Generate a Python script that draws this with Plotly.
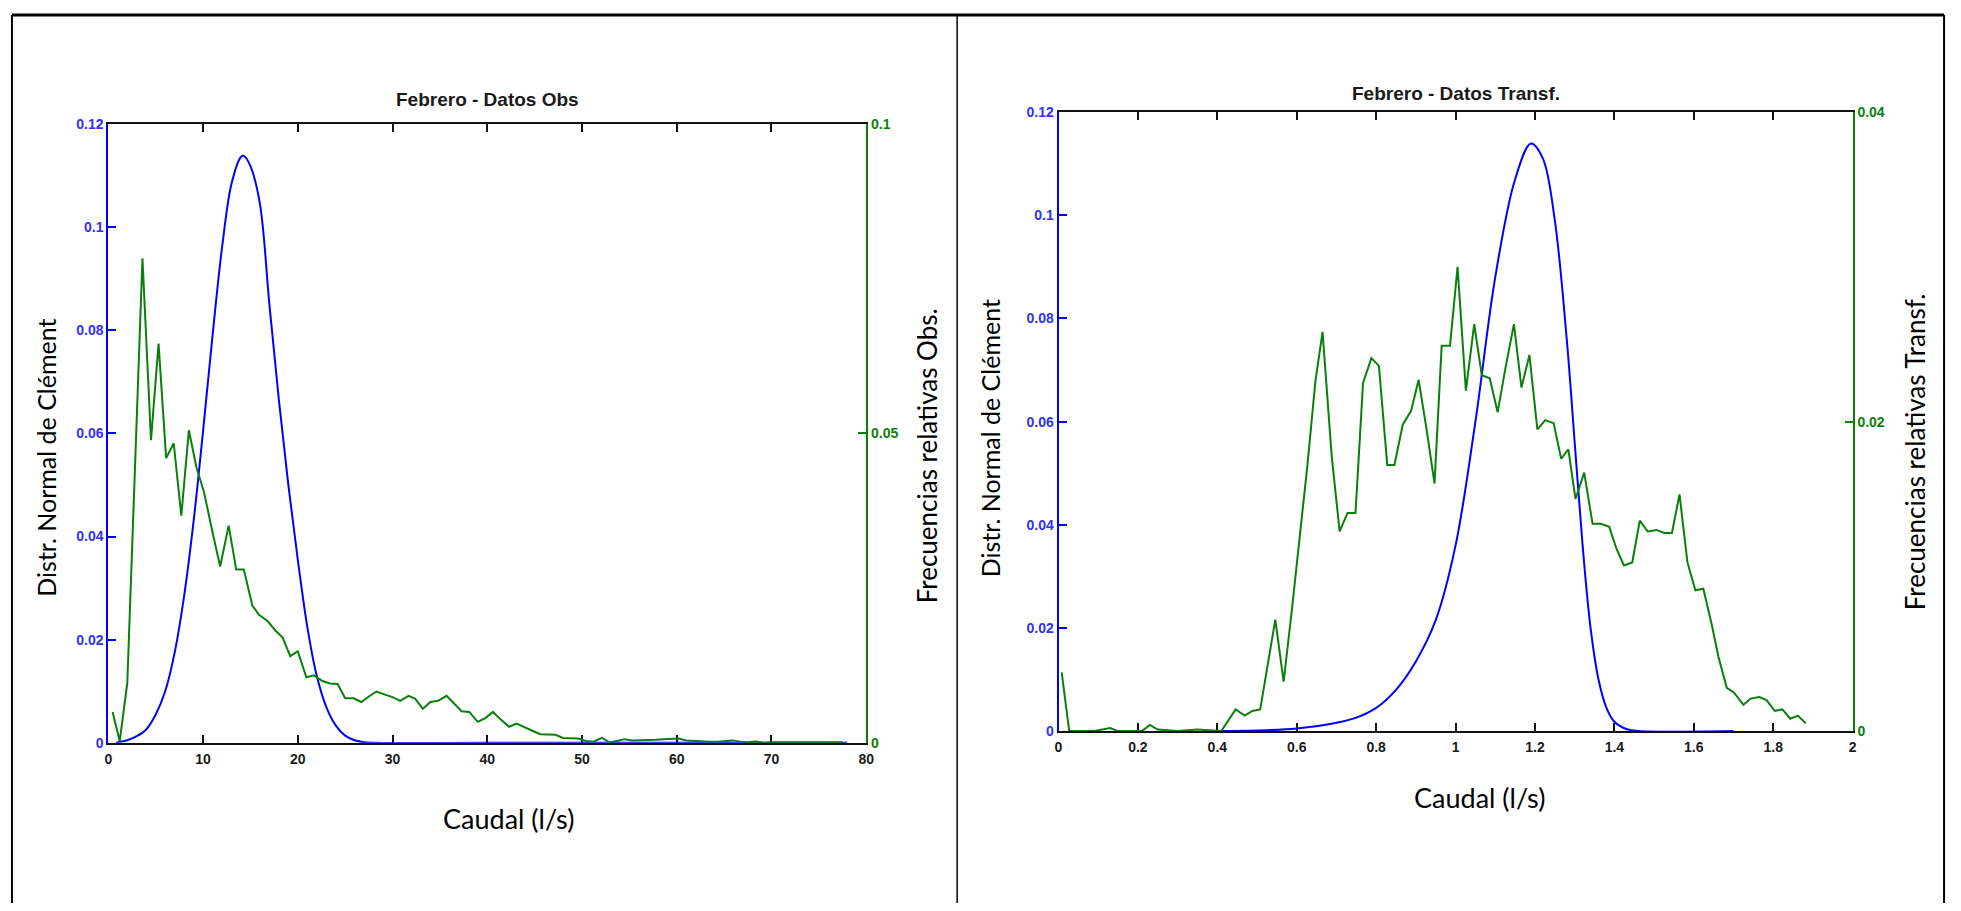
import plotly.graph_objects as go

W, H = 1961, 911

# ---------------- Febrero - Datos Obs ----------------
# Clément normal distribution curve (left axis)
obs_norm_x = [0.8, 1, 2, 3, 4, 5, 6, 7, 8, 9, 10, 11, 12, 13, 14, 14.3, 15, 16, 17,
              18, 19, 20, 21, 22, 23, 24, 25, 26, 27, 28, 40, 60, 78]
obs_norm_y = [0, 0.0001, 0.0005, 0.0013, 0.0026, 0.0055, 0.0100, 0.0175, 0.0285,
              0.0430, 0.0605, 0.0790, 0.0960, 0.1084, 0.1136, 0.1138, 0.1118, 0.1045,
              0.0850, 0.0665, 0.0500, 0.0355, 0.0225, 0.0130, 0.0070, 0.0034, 0.0014,
              0.0005, 0.0001, 0, 0, 0, 0]

# Observed relative frequencies (right axis)
obs_freq_x = [0.45, 1.2, 2.0, 2.8, 3.6, 4.5, 5.3, 6.1, 6.9, 7.7, 8.5, 9.3, 10.1, 11.0,
              11.8, 12.7, 13.5, 14.3, 15.2, 15.9, 16.8, 17.6, 18.4, 19.2, 20.0, 20.9,
              21.7, 22.6, 23.4, 24.2, 25.0, 25.9, 26.7, 27.5, 28.3, 29.2, 30.0, 30.8,
              31.7, 32.4, 33.2, 34.0, 34.8, 35.7, 36.5, 37.3, 38.1, 39.0, 39.8, 40.6,
              41.4, 42.3, 43.1, 43.9, 44.7, 45.6, 46.4, 47.2, 48.0, 48.8, 49.6, 50.4,
              51.2, 52.1, 52.9, 53.7, 54.5, 55.3, 56.1, 56.9, 57.8, 58.6, 59.4, 60.2,
              61.0, 61.8, 62.6, 63.5, 64.3, 65.1, 65.9, 66.7, 67.5, 68.3, 69.2, 70.0,
              71.0, 72.5, 74.0, 75.5, 77.5]
obs_freq_y = [0.0050, 0.0003, 0.0097, 0.0440, 0.0783, 0.0489, 0.0645, 0.0460, 0.0484,
              0.0367, 0.0505, 0.0445, 0.0405, 0.0340, 0.0285, 0.0351, 0.0280, 0.0280,
              0.0222, 0.0207, 0.0197, 0.0182, 0.0170, 0.0140, 0.0148, 0.0106, 0.0109,
              0.0100, 0.0096, 0.0095, 0.0072, 0.0072, 0.0066, 0.0075, 0.0083, 0.0078,
              0.0074, 0.0068, 0.0076, 0.0071, 0.0055, 0.0066, 0.0068, 0.0076, 0.0064,
              0.0051, 0.0050, 0.0034, 0.0040, 0.0050, 0.0038, 0.0026, 0.0031, 0.0026,
              0.0020, 0.0014, 0.0014, 0.0013, 0.0008, 0.0007, 0.0007, 0.0003, 0.0002,
              0.0008, 0.0001, 0.0003, 0.0006, 0.0004, 0.0004, 0.0005, 0.0005, 0.0006,
              0.0006, 0.0007, 0.0004, 0.0003, 0.0003, 0.0002, 0.0002, 0.0003, 0.0004,
              0.0002, 0.0001, 0.0002, 0.0000, 0.0001, 0.0001, 0.0002, 0.0001, 0.0001,
              0.0001]

# ---------------- Febrero - Datos Transf. ----------------
tr_norm_x = [0.40, 0.50, 0.60, 0.70, 0.75, 0.80, 0.85, 0.90, 0.95, 1.00, 1.05, 1.10,
             1.15, 1.19, 1.22, 1.25, 1.28, 1.30, 1.32, 1.34, 1.36, 1.38, 1.40, 1.43,
             1.46, 1.70]
tr_norm_y = [0, 0.0001, 0.0005, 0.0016, 0.0026, 0.0045, 0.0080, 0.0135, 0.0215, 0.0360,
             0.0600, 0.0880, 0.1070, 0.1139, 0.1110, 0.0990, 0.0760, 0.0560, 0.0360,
             0.0200, 0.0100, 0.0045, 0.0018, 0.0004, 0, 0]

tr_freq_x = [0.008, 0.027, 0.05, 0.09, 0.13, 0.15, 0.21, 0.23, 0.25, 0.30, 0.35, 0.41,
             0.446, 0.469, 0.488, 0.508, 0.546, 0.567, 0.588, 0.608, 0.627, 0.647,
             0.665, 0.688, 0.708, 0.728, 0.748, 0.767, 0.788, 0.807, 0.828, 0.846,
             0.867, 0.888, 0.907, 0.927, 0.947, 0.965, 0.986, 1.005, 1.026, 1.047,
             1.066, 1.086, 1.106, 1.126, 1.147, 1.166, 1.186, 1.206, 1.226, 1.247,
             1.266, 1.284, 1.302, 1.324, 1.345, 1.366, 1.387, 1.405, 1.424, 1.445,
             1.464, 1.484, 1.506, 1.526, 1.545, 1.564, 1.584, 1.604, 1.624, 1.645,
             1.662, 1.683, 1.701, 1.725, 1.743, 1.765, 1.783, 1.804, 1.823, 1.843,
             1.862, 1.882]
tr_freq_y = [0.0038, 0.0, 0.0, 0.0, 0.0002, 0.0, 0.0, 0.0004, 0.0001, 0.0, 0.0001, 0.0,
             0.0014, 0.0010, 0.0013, 0.0014, 0.0072, 0.0032, 0.0079, 0.0127, 0.0172,
             0.0226, 0.0258, 0.0178, 0.0129, 0.0141, 0.0141, 0.0225, 0.0241, 0.0236,
             0.0172, 0.0172, 0.0198, 0.0207, 0.0227, 0.0195, 0.0160, 0.0249, 0.0249,
             0.0300, 0.0220, 0.0263, 0.0230, 0.0228, 0.0206, 0.0235, 0.0263, 0.0222,
             0.0243, 0.0195, 0.0201, 0.0199, 0.0176, 0.0182, 0.0150, 0.0167, 0.0134,
             0.0134, 0.0132, 0.0118, 0.0107, 0.0109, 0.0136, 0.0129, 0.0130, 0.0128,
             0.0128, 0.0153, 0.0109, 0.0091, 0.0092, 0.0069, 0.0048, 0.0028, 0.0025,
             0.0017, 0.0021, 0.0022, 0.0020, 0.0013, 0.0014, 0.0008, 0.0010, 0.0005]

BLUE = "#0000ff"
GREEN = "#0b7f0b"
BLACK = "#111111"
TICK_FONT = "Liberation Sans, Arial, sans-serif"
LABEL_FONT = "Lato, Open Sans, sans-serif"


def fx(px):
    return px / W


def fy(py):
    return 1 - py / H


fig = go.Figure()

fig.add_trace(go.Scatter(x=obs_norm_x, y=obs_norm_y, xaxis="x", yaxis="y", mode="lines",
                         line=dict(color=BLUE, width=2, shape="spline", smoothing=1.0),
                         showlegend=False))
fig.add_trace(go.Scatter(x=obs_freq_x, y=obs_freq_y, xaxis="x", yaxis="y2", mode="lines",
                         line=dict(color=GREEN, width=2), showlegend=False))
fig.add_trace(go.Scatter(x=tr_norm_x, y=tr_norm_y, xaxis="x2", yaxis="y4", mode="lines",
                         line=dict(color=BLUE, width=2, shape="spline", smoothing=1.0),
                         showlegend=False))
fig.add_trace(go.Scatter(x=tr_freq_x, y=tr_freq_y, xaxis="x2", yaxis="y5", mode="lines",
                         line=dict(color=GREEN, width=2), showlegend=False))

common = dict(showgrid=False, zeroline=False, ticks="inside", ticklen=8, tickwidth=1.5,
              layer="below traces", fixedrange=True)


def tickfont(color):
    return dict(family=TICK_FONT, size=14, color=color, weight="bold")


def xaxis_def(domain, rng, dtick, anchor):
    return dict(domain=domain, range=rng, dtick=dtick, anchor=anchor, showline=True,
                linecolor=BLACK, linewidth=2, mirror="ticks", tickcolor=BLACK,
                ticklabelstandoff=2, tickfont=tickfont("#1a1a1a"), **common)


def yleft_def(domain, anchor):
    return dict(domain=domain, range=[0, 0.12], dtick=0.02, anchor=anchor, showline=True,
                linecolor=BLUE, linewidth=2, tickcolor=BLUE,
                tickfont=tickfont("#3030ff"), **common)


def yright_def(over, rng, dtick, anchor):
    return dict(overlaying=over, side="right", range=rng, dtick=dtick, anchor=anchor,
                showline=True, linecolor=GREEN, linewidth=2, tickcolor=GREEN,
                tickfont=tickfont(GREEN), **common)


def ymirror_def(over, anchor):
    # blue ticks of the left scale repeated on the right-hand frame
    return dict(overlaying=over, side="right", range=[0, 0.12], dtick=0.02, anchor=anchor,
                showline=False, tickcolor=BLUE, showticklabels=False, **common)


left_x = [fx(105), fx(867.5)]
left_y = [fy(748), fy(118)]
right_x = [fx(1061), fx(1860)]
right_y = [fy(736), fy(106)]

fig.update_layout(
    width=W, height=H,
    margin=dict(l=0, r=0, t=0, b=0),
    paper_bgcolor="white", plot_bgcolor="white",
    xaxis=xaxis_def(left_x, [0, 80], 10, "y"),
    yaxis=yleft_def(left_y, "x"),
    yaxis2=yright_def("y", [0, 0.1], 0.05, "x"),
    yaxis3=ymirror_def("y", "x"),
    xaxis2=xaxis_def(right_x, [0, 2], 0.2, "y4"),
    yaxis4=yleft_def(right_y, "x2"),
    yaxis5=yright_def("y4", [0, 0.04], 0.02, "x2"),
    yaxis6=ymirror_def("y4", "x2"),
)

annotations = [
    dict(text="<b>Febrero - Datos Obs</b>", x=fx(486), y=fy(93),
         font=dict(family=TICK_FONT, size=19, color="#1a1a1a")),
    dict(text="<b>Febrero - Datos Transf.</b>", x=fx(1461), y=fy(87),
         font=dict(family=TICK_FONT, size=19, color="#1a1a1a")),
    dict(text="Distr. Normal de Clément", x=fx(42), y=fy(458), textangle=-90,
         font=dict(family=LABEL_FONT, size=25, color="black")),
    dict(text="Frecuencias relativas Obs.", x=fx(929), y=fy(456), textangle=-90,
         font=dict(family=LABEL_FONT, size=26, color="black")),
    dict(text="Caudal (l/s)", x=fx(508), y=fy(825),
         font=dict(family=LABEL_FONT, size=27, color="black")),
    dict(text="Distr. Normal de Clément", x=fx(992), y=fy(438), textangle=-90,
         font=dict(family=LABEL_FONT, size=25, color="black")),
    dict(text="Frecuencias relativas Transf.", x=fx(1923), y=fy(452), textangle=-90,
         font=dict(family=LABEL_FONT, size=26, color="black")),
    dict(text="Caudal (l/s)", x=fx(1485), y=fy(804),
         font=dict(family=LABEL_FONT, size=27, color="black")),
]
for a in annotations:
    a.update(xref="paper", yref="paper", showarrow=False, xanchor="center", yanchor="middle")
fig.update_layout(annotations=annotations)

# table frame around the two panels
frame = [
    dict(x0=fx(8), x1=fx(1952), y0=fy(7), y1=fy(7), width=3),
    dict(x0=fx(8), x1=fx(8), y0=fy(7), y1=fy(911), width=2),
    dict(x0=fx(959), x1=fx(959), y0=fy(7), y1=fy(911), width=1.5),
    dict(x0=fx(1952), x1=fx(1952), y0=fy(7), y1=fy(911), width=2),
]
fig.update_layout(shapes=[dict(type="line", xref="paper", yref="paper",
                               x0=s["x0"], x1=s["x1"], y0=s["y0"], y1=s["y1"],
                               line=dict(color="black", width=s["width"]))
                          for s in frame])

fig.write_html("out.html", config=dict(displayModeBar=False),
               post_script="document.body.style.margin='0';"
                           "document.body.style.overflow='hidden';")
